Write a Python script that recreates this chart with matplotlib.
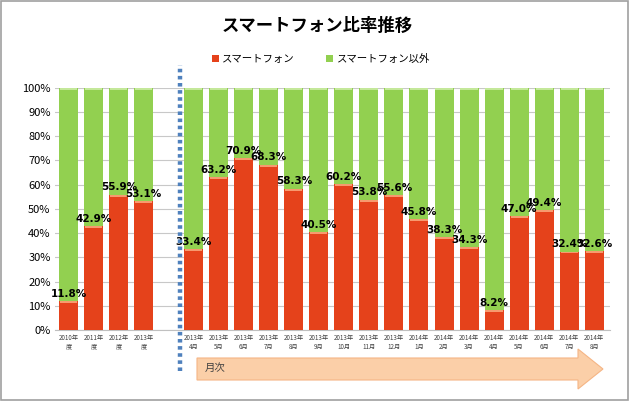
import numpy as np
import matplotlib.pyplot as plt
from matplotlib.patches import FancyArrow, Rectangle

plt.rcParams['font.family'] = ['Noto Sans CJK JP', 'DejaVu Sans']

# data
annual_labels = ['2010年\n度', '2011年\n度', '2012年\n度', '2013年\n度']
annual_values = [11.8, 42.9, 55.9, 53.1]
monthly_labels = ['2013年\n4月', '2013年\n5月', '2013年\n6月', '2013年\n7月', '2013年\n8月',
                  '2013年\n9月', '2013年\n10月', '2013年\n11月', '2013年\n12月',
                  '2014年\n1月', '2014年\n2月', '2014年\n3月', '2014年\n4月',
                  '2014年\n5月', '2014年\n6月', '2014年\n7月', '2014年\n8月']
monthly_values = [33.4, 63.2, 70.9, 68.3, 58.3, 40.5, 60.2, 53.8, 55.6,
                  45.8, 38.3, 34.3, 8.2, 47.0, 49.4, 32.4, 32.6]

red = '#E5421B'
green = '#92D050'

labels = annual_labels + monthly_labels
values = np.array(annual_values + monthly_values)
# one empty slot between the yearly and the monthly bars
x = np.r_[np.arange(len(annual_values)), np.arange(len(monthly_values)) + len(annual_values) + 1]

fig = plt.figure(figsize=(6.29, 4.01), dpi=100)
ax = fig.add_axes([0.087, 0.177, 0.883, 0.604])

w = 0.76
ax.bar(x, values, w, color=red, zorder=3, label='スマートフォン')
ax.bar(x, 100 - values, w, bottom=values, color=green, zorder=3, label='スマートフォン以外')
# light highlight at the top of each segment
ax.bar(x, 0.8, w * 0.9, bottom=values - 0.8, color='#F79A6E', zorder=4)
ax.bar(x, 0.8, w * 0.9, bottom=99.2, color='#C4E89A', zorder=4)

for xi, v in zip(x, values):
    ax.text(xi, v + 1.0, f'{v:.1f}%', ha='center', va='bottom', fontsize=7.5,
            fontweight='bold', family='DejaVu Sans', zorder=5)

ax.set_xlim(-0.56, 21.64)
ax.set_ylim(0, 100)
ax.set_yticks(np.arange(0, 101, 10))
ax.set_yticklabels([f'{t}%' for t in range(0, 101, 10)], fontsize=8)
ax.set_xticks(x)
ax.set_xticklabels(labels, fontsize=4.5, color='#404040', linespacing=1.1)
ax.tick_params(length=0, pad=3)
ax.yaxis.grid(True, color='#C8C8C8', lw=0.8, zorder=0)
for s in ['top', 'right', 'left']:
    ax.spines[s].set_visible(False)
ax.spines['bottom'].set_color('#C0C0C0')

# dotted separator
ax.axvline(4.44, ymin=-0.17, ymax=1.095, color='#4F81BD', lw=3.2,
           ls=(0, (0.8, 0.8)), clip_on=False, zorder=6)

fig.text(0.505, 0.935, 'スマートフォン比率推移', ha='center', va='center',
         fontsize=12.5, fontweight='bold')
ax.legend(loc='center', bbox_to_anchor=(0.51, 0.852), bbox_transform=fig.transFigure,
          ncol=2, frameon=False, fontsize=7.5, handlelength=0.7, handleheight=0.7,
          columnspacing=3.0, handletextpad=0.3)

# monthly arrow
W, H = 629, 401
arrow = FancyArrow(197 / W, 1 - 369 / H, (603 - 197) / W, 0, width=22 / H,
                   head_width=40 / H, head_length=25 / W, length_includes_head=True,
                   transform=fig.transFigure, facecolor='#FBCFA8', edgecolor='#F5B585', lw=0.8)
fig.patches.append(arrow)
fig.text(205 / W, 1 - 368 / H, '月次', fontsize=7.5, va='center', color='#404040')

# border
fig.patches.append(Rectangle((0.002, 0.003), 0.996, 0.994, transform=fig.transFigure,
                             fill=False, edgecolor='#A0A0A0', lw=1.2))

fig.savefig('out.png', dpi=100)
